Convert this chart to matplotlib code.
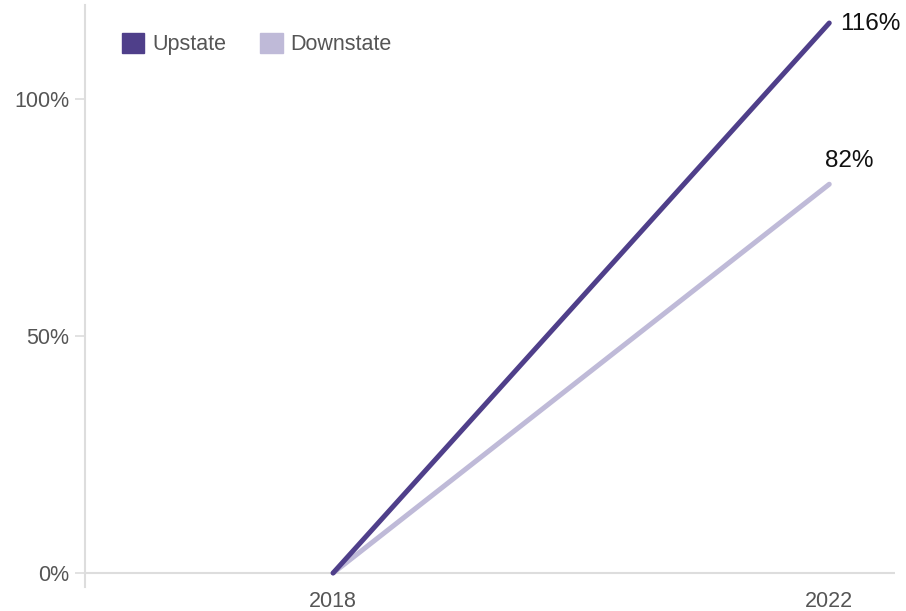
import matplotlib
matplotlib.use("Agg")
import matplotlib.pyplot as plt
from matplotlib.patches import Patch

plt.rcParams['font.family'] = ['Liberation Sans', 'DejaVu Sans']

years = [2018, 2022]
upstate = [0, 116]
downstate = [0, 82]
yticks = [0, 50, 100]
ytick_labels = ["0%", "50%", "100%"]
up_color = "#4f3f8a"
down_color = "#bfbad8"

fig = plt.figure(figsize=(9.06, 6.11), dpi=100)
ax = fig.add_axes([85/906, 1 - 587/611, (895-85)/906, (587-5)/611])

ax.plot(years, downstate, color=down_color, lw=3.6, solid_capstyle='round', zorder=3)
ax.plot(years, upstate, color=up_color, lw=3.6, solid_capstyle='round', zorder=4)

ax.set_xlim(2016, 2022.53)
ax.set_ylim(-2.95, 119.8)

ax.axhline(0, color="#dddddd", lw=1.5, zorder=1)
for s in ['top', 'right', 'bottom']:
    ax.spines[s].set_visible(False)
ax.spines['left'].set_color("#dddddd")
ax.spines['left'].set_linewidth(1.5)

ax.set_yticks(yticks)
ax.set_yticklabels(ytick_labels)
ax.tick_params(axis='y', length=7, width=1.2, color="#dddddd", labelcolor="#555555", labelsize=15.5, pad=4.5)
ax.set_xticks(years)
ax.set_xticklabels([str(y) for y in years])
ax.tick_params(axis='x', length=0, labelcolor="#555555", labelsize=15.5, pad=3)

ax.annotate(f"{upstate[-1]}%", (years[-1], upstate[-1]), xytext=(8, -1), textcoords='offset points',
            ha='left', va='center', fontsize=17.5, color="#111111")
ax.annotate(f"{downstate[-1]}%", (years[-1], downstate[-1]), xytext=(-3, 16.5), textcoords='offset points',
            ha='left', va='center', fontsize=17.5, color="#111111")

handles = [Patch(facecolor=up_color, edgecolor=up_color, label="Upstate"),
           Patch(facecolor=down_color, edgecolor=down_color, label="Downstate")]
leg = ax.legend(handles=handles, loc='upper left', bbox_to_anchor=(0.0215, 0.985), ncol=2, frameon=False,
                fontsize=15.5, handlelength=1.05, handleheight=1.05, handletextpad=0.35, columnspacing=1.6,
                labelcolor="#555555")

fig.savefig("out.png", dpi=100)
